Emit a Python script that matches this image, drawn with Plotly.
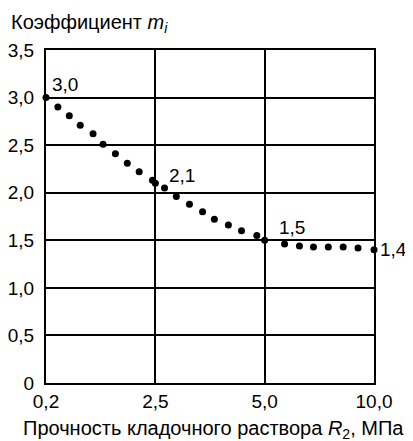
import numpy as np
import plotly.graph_objects as go

# Axis scale (ticks equally spaced on the chart)
x_ticks = [0.2, 2.5, 5.0, 10.0]
x_tick_labels = ["0,2", "2,5", "5,0", "10,0"]
y_ticks = [0, 0.5, 1.0, 1.5, 2.0, 2.5, 3.0, 3.5]
y_tick_labels = ["0", "0,5", "1,0", "1,5", "2,0", "2,5", "3,0", "3,5"]

# Dotted curve: mortar strength R2 (MPa) vs coefficient m_i
r2_values = [0.2, 0.45, 0.69, 0.92, 1.19, 1.40, 1.66, 1.91, 2.16, 2.44, 2.5,
             2.71, 2.98, 3.28, 3.58, 3.85, 4.17, 4.47, 4.82, 5.0,
             5.91, 6.59, 7.23, 7.91, 8.59, 9.27, 10.0]
m_values = [3.0, 2.90, 2.81, 2.71, 2.62, 2.51, 2.41, 2.31, 2.22, 2.13, 2.10,
            2.05, 1.96, 1.88, 1.80, 1.72, 1.66, 1.60, 1.55, 1.50,
            1.46, 1.44, 1.43, 1.43, 1.43, 1.42, 1.40]

# Labelled key points
key_r2 = [0.2, 2.5, 5.0, 10.0]
key_m = [3.0, 2.1, 1.5, 1.4]
key_labels = ["3,0", "2,1", "1,5", "1,4"]
key_shift = [(4, 13), (12, 8), (12, 13), (4, 0)]

x_title = "Прочность кладочного раствора <i>R</i><sub>2</sub>, МПа"
y_title = "Коэффициент <i>m<sub>i</sub></i>"


def xscale(v):
    return np.interp(v, x_ticks, np.arange(len(x_ticks)))


FONT = "Liberation Sans, Arial, sans-serif"
FS = 19
FS_TITLE = 20

fig = go.Figure()
fig.add_trace(go.Scatter(
    x=xscale(r2_values), y=m_values, mode="markers",
    marker=dict(size=7, color="black"), cliponaxis=False,
    hoverinfo="skip", showlegend=False))

for xv, yv, lab, (dx, dy) in zip(key_r2, key_m, key_labels, key_shift):
    fig.add_annotation(x=float(xscale(xv)), y=yv, text=lab, showarrow=False,
                       xanchor="left", yanchor="middle", xshift=dx, yshift=dy,
                       font=dict(family=FONT, size=FS, color="black"))

fig.add_annotation(xref="paper", yref="paper", x=-37 / 328, y=1 + 26 / 333,
                   xanchor="left", yanchor="middle", showarrow=False,
                   text=y_title, font=dict(family=FONT, size=FS_TITLE, color="black"))

fig.add_annotation(xref="paper", yref="paper", x=(213.5 - 46) / 328,
                   y=-(429 - 383) / 333, xanchor="center", yanchor="middle",
                   showarrow=False, text=x_title,
                   font=dict(family=FONT, size=FS_TITLE, color="black"))

axis_common = dict(showgrid=True, gridcolor="black", gridwidth=2,
                   showline=True, linecolor="black", linewidth=2, mirror=True,
                   zeroline=False, ticks="", automargin=False)

# The page body has an 8px margin, so the figure is shrunk by that amount.
fig.update_layout(
    template="none",
    width=405, height=433,
    margin=dict(l=38, r=39, t=42, b=58),
    paper_bgcolor="white", plot_bgcolor="white",
    font=dict(family=FONT, size=FS, color="black"),
    xaxis=dict(range=[0, 3], tickvals=list(range(len(x_ticks))),
               ticktext=x_tick_labels, ticklabelstandoff=0, **axis_common),
    yaxis=dict(range=[0, 3.5], tickvals=y_ticks, ticktext=y_tick_labels,
               ticklabelstandoff=6, **axis_common),
)

fig.write_html("out.html")
